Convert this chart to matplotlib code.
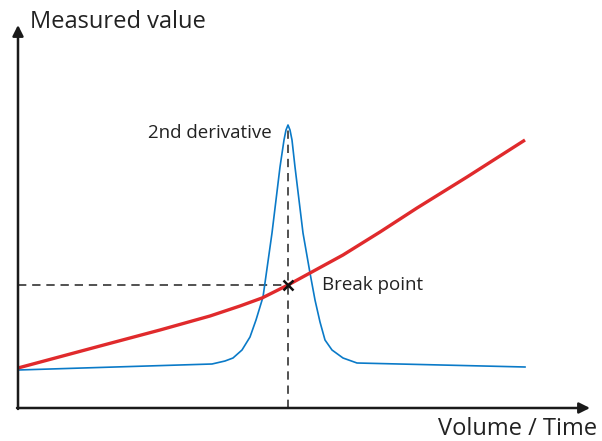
import numpy as np
import matplotlib.pyplot as plt

plt.rcParams['font.family'] = ['Open Sans', 'DejaVu Sans']

# Measured titration curve (volume/time vs. measured value)
meas_x = [0, 82, 142, 192, 222, 244, 270, 292, 325, 362, 399, 449, 507]
meas_y = [40, 62, 78, 92, 102, 110, 123, 135, 153, 176, 200, 231, 268]

# Second derivative of the curve
deriv_x = [0, 194, 207, 215, 224, 232, 238, 245, 254, 262, 266, 268, 270,
           272, 274, 277, 285, 292, 297, 302, 307, 314, 325, 339, 507]
deriv_y = [38, 44, 47, 50, 58, 71, 88, 111, 175, 241, 268, 278, 283,
           278, 268, 241, 175, 135, 108, 86, 68, 58, 50, 45, 41]

# Break point (peak of the second derivative)
break_x = 270
break_y = 123
peak_y = 283

fig = plt.figure(figsize=(6.02, 4.41), dpi=100)
ax = fig.add_axes([0, 0, 1, 1])
ax.set_xlim(-18, 584)
ax.set_ylim(-33, 408)
ax.axis('off')

axis_col = '#1a1a1a'
# axes with arrow heads
ax.annotate('', xy=(572, 0), xytext=(-1, 0),
            arrowprops=dict(arrowstyle='-|>', color=axis_col, lw=1.8,
                            mutation_scale=16, shrinkA=0, shrinkB=0))
ax.annotate('', xy=(0, 383), xytext=(0, -1),
            arrowprops=dict(arrowstyle='-|>', color=axis_col, lw=1.8,
                            mutation_scale=16, shrinkA=0, shrinkB=0))

# dashed guides to the break point
ax.plot([0, break_x], [break_y, break_y], color='#333333', lw=1.2,
        dashes=(5, 3.5))
ax.plot([break_x, break_x], [0, peak_y], color='#333333', lw=1.2,
        dashes=(5, 3.5))

ax.plot(deriv_x, deriv_y, color='#0a7ac8', lw=1.2, solid_joinstyle='round')
ax.plot(meas_x, meas_y, color='#e02a2c', lw=2.4, solid_capstyle='butt')

ax.plot(break_x, break_y, marker='x', color='#111111', ms=7, mew=1.8)

txt_col = '#222222'
ax.text(12, 386, 'Measured value', fontsize=17, color=txt_col,
        va='center', ha='left')
ax.text(579, -21, 'Volume / Time', fontsize=17, color=txt_col,
        va='center', ha='right')
ax.text(254, 275, '2nd derivative', fontsize=13.5, color=txt_col,
        va='center', ha='right')
ax.text(304, 123, 'Break point', fontsize=13.5, color=txt_col,
        va='center', ha='left')

fig.savefig('out.png', dpi=100)
